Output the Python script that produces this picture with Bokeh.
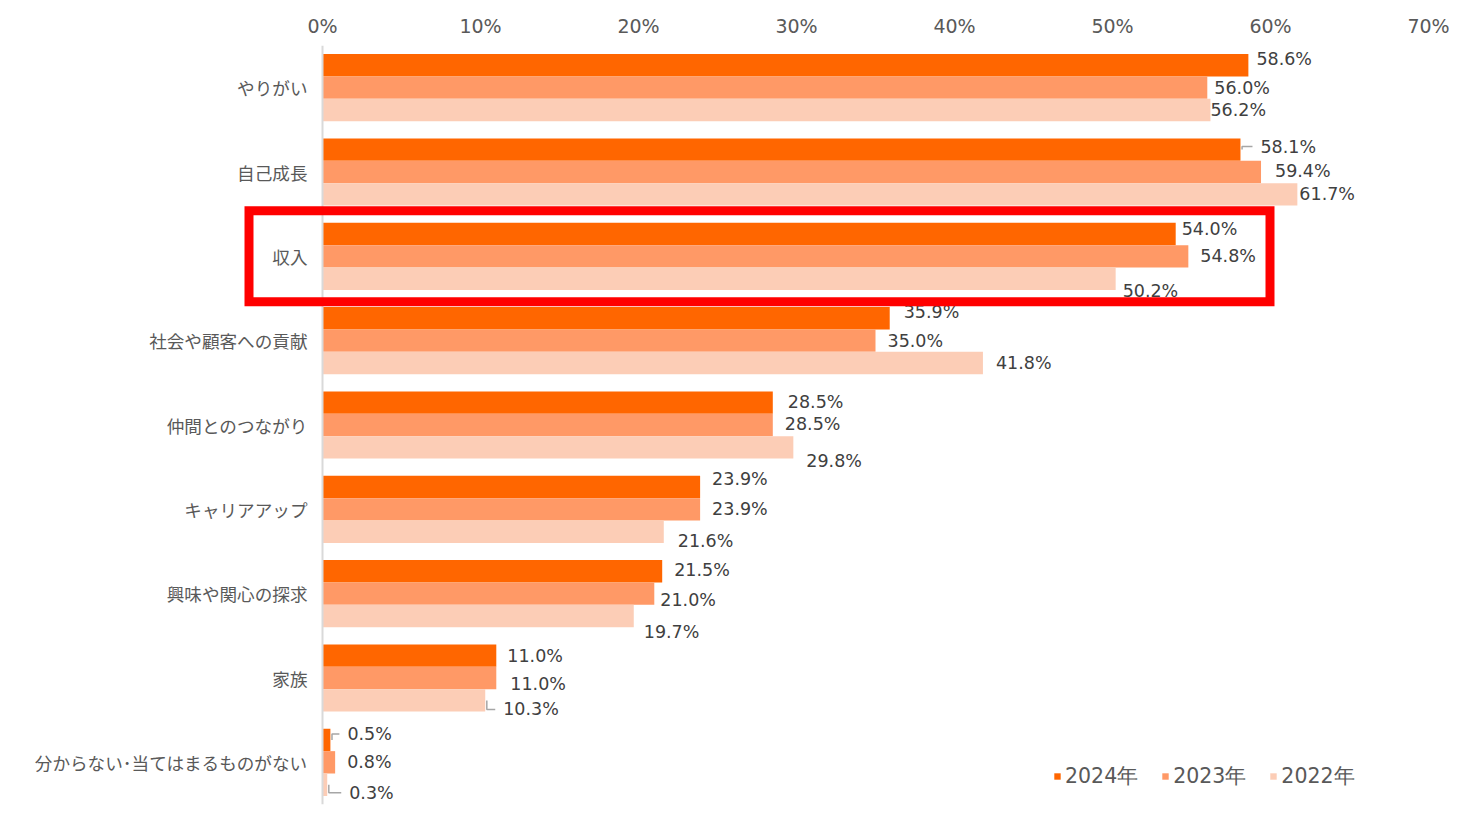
from bokeh.plotting import figure
from bokeh.models import (Range1d, FixedTicker, PrintfTickFormatter, Legend,
                          LegendItem, ColumnDataSource)
from bokeh.core.properties import value
from bokeh.embed import file_html
from bokeh.resources import INLINE

# ---------------- data ----------------
categories = ["やりがい", "自己成長", "収入", "社会や顧客への貢献", "仲間とのつながり",
              "キャリアアップ", "興味や関心の探求", "家族", "分からない･当てはまるものがない"]
years = ["2024年", "2023年", "2022年"]
v2024 = [58.6, 58.1, 54.0, 35.9, 28.5, 23.9, 21.5, 11.0, 0.5]
v2023 = [56.0, 59.4, 54.8, 35.0, 28.5, 23.9, 21.0, 11.0, 0.8]
v2022 = [56.2, 61.7, 50.2, 41.8, 29.8, 21.6, 19.7, 10.3, 0.3]
x_ticks = [0, 10, 20, 30, 40, 50, 60, 70]
highlight = "収入"

# ---------------- label placement (style, pixels) ----------------
dx2024 = [8, 20, 6, 14, 15, 12, 12, 11, 17]
dy2024 = [-6, -3, -5, -6, -1, -8, -1, 0, -6]
dx2023 = [7, 14, 12, 12, 12, 12, 6, 14, 12]
dy2023 = [0, -1, 0, 0, -1, 0, 6, 6, 0]
dx2022 = [0, 2, 7, 13, 13, 14, 10, 18, 22]
dy2022 = [0, 0, 12, 0, 14, 9, 16, 9, 8]
lead2024 = [False, True, False, False, False, False, False, False, True]
lead2023 = [False] * 9
lead2022 = [False, False, False, False, False, False, False, True, True]

colors = ["#ff6600", "#ff9966", "#fccdb6"]
TEXT = "#595959"
LABEL = "#404040"

PX_X = 15.8          # px per percent
PX_Y = 84.375        # px per category
ZERO_PX = 322        # page x of the 0% line
FRAME_W = ZERO_PX + 70 * PX_X
FRAME_H = 759
x_start = -ZERO_PX / PX_X
n = len(categories)
centers = [n - 0.5 - i for i in range(n)]
bar_h = 22.4 / PX_Y
offsets = [bar_h, 0.0, -bar_h]

p = figure(frame_width=int(round(FRAME_W)), frame_height=FRAME_H,
           x_range=Range1d(x_start, 70),
           y_range=Range1d(0, n),
           x_axis_location="above", y_axis_location=None,
           output_backend="svg", toolbar_location=None,
           min_border_left=0, min_border_right=24, min_border_top=45, min_border_bottom=4,
           outline_line_color=None, background_fill_color="white", border_fill_color="white")
p.xgrid.visible = False
p.ygrid.visible = False

ax = p.xaxis[0]
ax.ticker = FixedTicker(ticks=x_ticks)
ax.formatter = PrintfTickFormatter(format="%d%%")
ax.axis_line_color = None
ax.major_tick_line_color = None
ax.minor_tick_line_color = None
ax.major_tick_out = 0
ax.major_label_standoff = 9
ax.major_label_text_font = "DejaVu Sans"
ax.major_label_text_font_size = "19px"
ax.major_label_text_color = TEXT

series = [v2024, v2023, v2022]
dxs = [dx2024, dx2023, dx2022]
dys = [dy2024, dy2023, dy2022]
leads = [lead2024, lead2023, lead2022]

renderers = []
for k in range(3):
    ys = [c + offsets[k] for c in centers]
    src = ColumnDataSource(dict(y=ys, v=series[k],
                                lab=[f"{x:.1f}%" for x in series[k]],
                                dx=dxs[k], dy=dys[k]))
    r = p.hbar(y="y", left=0, right="v", height=bar_h, fill_color=colors[k],
               line_color=None, source=src)
    renderers.append(r)
    p.text(x="v", y="y", text="lab", x_offset="dx", y_offset="dy", source=src,
           text_align="left", text_baseline="middle", text_color=LABEL,
           text_font=value("DejaVu Sans"), text_font_size="17.5px")
    # leader lines
    xs_l, ys_l = [], []
    for i in range(n):
        if leads[k][i]:
            v = series[k][i]
            ly = ys[i] - dys[k][i] / PX_Y
            xs_l.append([v + 0.1, v + 0.1, v + (dxs[k][i] - 8) / PX_X])
            ys_l.append([ys[i], ly, ly])
    if xs_l:
        p.multi_line(xs=xs_l, ys=ys_l, line_color="#a6a6a6", line_width=1.5)

# category axis line
p.segment(x0=[0], y0=[0], x1=[0], y1=[n], line_color="#d9d9d9", line_width=2)

# category labels
p.text(x=[0] * n, y=centers, text=categories, x_offset=-15,
       text_align="right", text_baseline="middle", text_color=TEXT,
       text_font=value("Noto Sans CJK JP"), text_font_size="17.6px")

# highlight box
hi = categories.index(highlight)
hc = centers[hi]
box_half = 45.5 / PX_Y
p.quad(left=[-73.5 / PX_X], right=[947.5 / PX_X], top=[hc + box_half], bottom=[hc - box_half],
       fill_color=None, line_color="#ff0000", line_width=9, line_join="miter")

legend = Legend(items=[LegendItem(label=years[k], renderers=[renderers[k]]) for k in range(3)],
                orientation="horizontal", location=(1053, 14),
                glyph_width=8, glyph_height=8, label_standoff=4, spacing=23,
                padding=0, margin=0, border_line_color=None, background_fill_alpha=0,
                label_text_font="DejaVu Sans", label_text_font_size="20.5px",
                label_text_color=TEXT)
p.add_layout(legend, "center")

open("out.html", "w").write(file_html(p, INLINE))
